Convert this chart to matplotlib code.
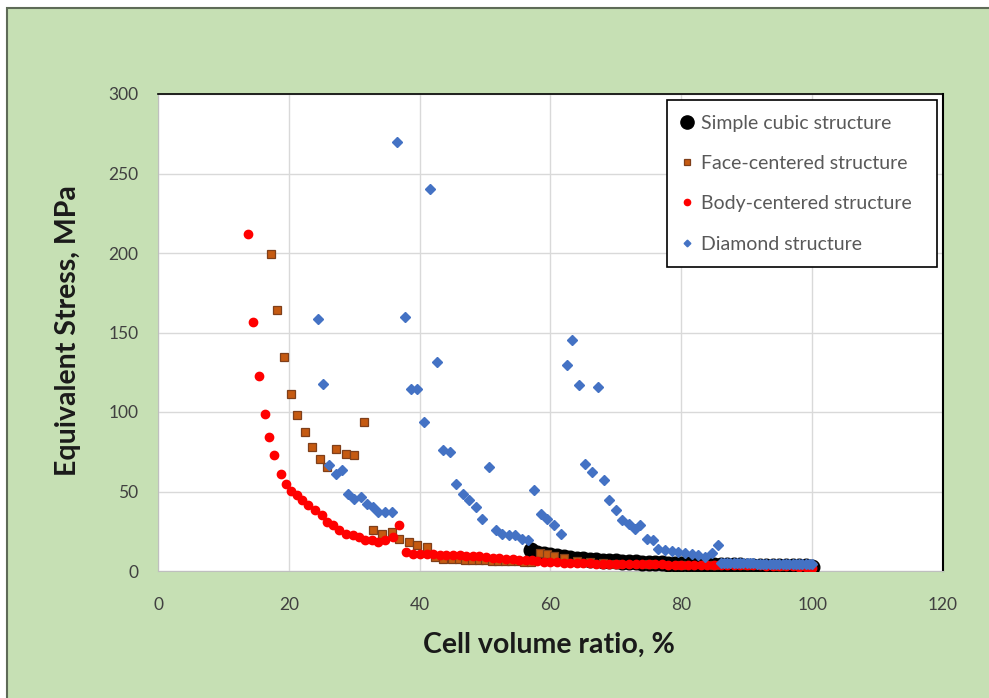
import matplotlib
matplotlib.use("Agg")
import matplotlib.pyplot as plt
from matplotlib.patches import Rectangle

plt.rcParams['font.family'] = ['Lato', 'DejaVu Sans']

# Simple cubic structure
sc_x = [57, 58, 59, 60, 61, 62, 63, 64, 65, 66, 67, 68, 69, 70, 71, 72, 73, 74, 75,
        76, 77, 78, 79, 80, 81, 82, 83, 84, 85, 86, 87, 88, 89, 90, 91, 92, 93, 94,
        95, 96, 97, 98, 99, 100]
sc_y = [13.0, 11.5, 10.5, 9.8, 9.2, 8.7, 8.2, 7.8, 7.4, 7.1, 6.8, 6.5, 6.2, 6.0, 5.8,
        5.6, 5.4, 5.2, 5.0, 4.9, 4.8, 4.6, 4.5, 4.3, 4.2, 4.1, 4.0, 3.9, 3.8, 3.7, 3.6,
        3.5, 3.5, 3.4, 3.3, 3.3, 3.2, 3.1, 3.1, 3.0, 3.0, 2.9, 2.9, 2.8]

# Face-centered structure
fc_x = [17.3, 18.2, 19.3, 20.3, 21.3, 22.5, 23.5, 24.7, 25.9, 27.2, 28.7, 29.9, 31.5,
        32.9, 34.2, 35.7, 36.9, 38.4, 39.6, 41.1, 42.4, 43.6, 45, 46, 47, 48, 49, 50,
        51, 52, 53, 54, 55, 56, 57, 58.4, 59.4, 60.5, 62, 64, 66, 68, 70, 75, 80, 85,
        90, 95, 100]
fc_y = [199.4, 164.0, 134.6, 111.5, 97.9, 87.4, 78.0, 70.6, 65.4, 76.9, 73.8, 72.7,
        93.7, 25.6, 23.5, 24.5, 20.3, 18.2, 16.1, 15.1, 8.8, 7.7, 7.5, 7.3, 7.2, 7.0,
        6.9, 6.8, 6.6, 6.5, 6.3, 6.2, 6.0, 5.9, 5.8, 11.1, 10.7, 9.5, 8.0, 6.5, 5.5,
        5.0, 4.6, 4.3, 4.0, 3.8, 3.6, 3.4, 3.2]

# Body-centered structure
bc_x = [13.7, 14.5, 15.5, 16.3, 17.0, 17.8, 18.8, 19.5, 20.3, 21.2, 22.0, 23.0, 24.0,
        25.0, 25.8, 26.7, 27.7, 28.8, 29.8, 30.8, 31.7, 32.7, 33.7, 34.7, 35.9, 36.9,
        37.9, 39.0, 40.1, 41.1, 42.1, 43.1, 44.1, 45.1, 46.1, 47.1, 48.1, 49.1, 50.1,
        51.2, 52.2, 53.2, 54.2, 55.2, 56.2, 57.2, 58, 59, 60, 61, 62, 63, 64, 65, 66,
        67, 68, 69, 70, 71, 72, 73, 74, 75, 76, 77, 78, 79, 80, 81, 82, 83, 84, 85,
        86, 87, 88, 89, 90, 91, 92, 93, 94, 95, 96, 97, 98, 99, 100]
bc_y = [212.0, 156.5, 122.8, 98.9, 84.3, 72.7, 61.2, 54.9, 50.5, 47.6, 44.7, 41.5,
        38.2, 35.0, 30.8, 28.7, 25.8, 23.5, 22.4, 21.6, 19.5, 19.5, 18.4, 19.5, 21.6,
        28.9, 11.9, 10.9, 10.9, 10.9, 10.9, 10.3, 10.3, 10.3, 10.0, 9.6, 9.2, 9.2, 8.8,
        8.4, 8.0, 7.5, 7.3, 7.1, 6.7, 6.7, 6.0, 5.8, 5.6, 5.4, 5.3, 5.1, 5.0, 4.9, 4.8,
        4.7, 4.6, 4.5, 4.5, 4.4, 4.3, 4.3, 4.2, 4.2, 4.1, 4.1, 4.0, 4.0, 3.9, 3.9, 3.8,
        3.8, 3.8, 3.7, 3.7, 3.7, 3.6, 3.6, 3.6, 3.5, 3.5, 3.4, 3.4, 3.3, 3.2, 3.0, 2.8,
        2.4, 2.0]

# Diamond structure
dm_x = [24.5, 25.2, 26.2, 27.2, 28.2, 29.0, 30.0, 31.0, 32.0, 32.9, 33.7, 34.7, 35.7,
        36.6, 37.7, 38.6, 39.6, 40.6, 41.6, 42.6, 43.6, 44.6, 45.6, 46.6, 47.6, 48.6,
        49.6, 50.6, 51.6, 52.6, 53.6, 54.6, 55.6, 56.6, 57.5, 58.5, 59.5, 60.6, 61.6,
        62.5, 63.3, 64.3, 65.2, 66.3, 67.3, 68.2, 69.0, 70.0, 71.0, 72.0, 72.9, 73.7,
        74.7, 75.7, 76.5, 77.5, 78.5, 79.5, 80.6, 81.6, 82.6, 83.6, 84.7, 85.6,
        86, 86.5, 87, 87.5, 88, 88.5, 89, 89.5, 90, 90.5, 91, 91.5, 92, 92.5, 93, 93.5,
        94, 94.5, 95, 95.5, 96, 96.5, 97, 97.5, 98, 98.5, 99, 99.5, 100]
dm_y = [158.7, 117.8, 66.5, 61.2, 63.3, 48.6, 45.5, 46.5, 42.3, 40.3, 37.1, 37.1, 37.1,
        269.6, 159.7, 114.7, 114.7, 93.7, 240.3, 131.4, 75.9, 74.8, 54.9, 48.6, 44.5,
        40.0, 32.7, 65.4, 25.6, 23.5, 22.4, 22.4, 20.3, 19.3, 50.7, 36.1, 32.9, 28.7,
        23.5, 129.4, 145.1, 116.8, 67.5, 62.3, 115.7, 57.0, 44.5, 38.2, 31.9, 29.7,
        26.6, 28.7, 20.3, 19.3, 14.0, 13.0, 12.3, 11.9, 11.1, 11.0, 10.1, 9.0, 11.1,
        16.1, 5.0, 5.0, 5.0, 4.9, 4.9, 4.9, 4.9, 4.8, 4.8, 4.8, 4.8, 4.7, 4.7, 4.7,
        4.7, 4.6, 4.6, 4.6, 4.6, 4.5, 4.5, 4.5, 4.5, 4.4, 4.4, 4.4, 4.4, 4.3, 4.3]

x_ticks = [0, 20, 40, 60, 80, 100, 120]
y_ticks = [0, 50, 100, 150, 200, 250, 300]

fig = plt.figure(figsize=(9.89, 6.98), dpi=100, facecolor='white')

# green chart area with a dark edge at top and left
bg = Rectangle((7 / 989, -0.1), 1.2, 1.1 - 8 / 698, transform=fig.transFigure,
               facecolor='#C6E0B4', edgecolor='#5E6B57', linewidth=1.5, zorder=-10)
fig.add_artist(bg)

ax = fig.add_axes([158 / 989, 1 - 571 / 698, 785 / 989, 477 / 698])
ax.set_facecolor('white')

ax.plot(sc_x, sc_y, linestyle='none', marker='o', markersize=10.5, color='black',
        label='Simple cubic structure', zorder=3)
ax.plot(fc_x, fc_y, linestyle='none', marker='s', markersize=5.6, markerfacecolor='#C55A11',
        markeredgecolor='#7F3F1A', markeredgewidth=0.9, label='Face-centered structure', zorder=4)
ax.plot(bc_x, bc_y, linestyle='none', marker='o', markersize=6, color='#FF0000',
        label='Body-centered structure', zorder=5)
ax.plot(dm_x, dm_y, linestyle='none', marker='D', markersize=4.6, color='#4472C4',
        label='Diamond structure', zorder=6)

ax.set_xlim(0, 120)
ax.set_ylim(0, 300)
ax.set_xticks(x_ticks)
ax.set_yticks(y_ticks)
ax.tick_params(length=0, labelsize=12.5, labelcolor='#404040')
ax.tick_params(axis='x', pad=19)
ax.tick_params(axis='y', pad=14)
ax.grid(True, color='#D9D9D9', linewidth=1)
ax.set_axisbelow(True)

ax.spines['top'].set_color('black')
ax.spines['right'].set_color('black')
ax.spines['top'].set_linewidth(1.2)
ax.spines['right'].set_linewidth(1.5)
ax.spines['left'].set_color('#BFBFBF')
ax.spines['bottom'].set_color('#BFBFBF')

fig.text(68 / 989, 1 - 331 / 698, 'Equivalent Stress, MPa', rotation=90, ha='center',
         va='center', fontsize=20.5, fontweight='bold', color='#1A1A1A')
fig.text(549 / 989, 1 - 645 / 698, 'Cell volume ratio, %', ha='center', va='center',
         fontsize=20.5, fontweight='bold', color='#1A1A1A')

leg = ax.legend(loc='upper left', bbox_to_anchor=(667 / 989, 1 - 100 / 698 - 0.01, 270 / 989, 0.01),
                bbox_transform=fig.transFigure, mode='expand', fontsize=14,
                labelspacing=1.2, handlelength=0.6, handletextpad=0.4, borderpad=0.75,
                borderaxespad=0, fancybox=False, framealpha=1, edgecolor='black',
                labelcolor='#595959')
leg.get_frame().set_linewidth(1.2)
# Excel shows smaller markers in the legend for the small series
for h, ms in zip(leg.legend_handles, [9.5, 4.2, 4.5, 3.4]):
    h.set_markersize(ms)

fig.savefig('out.png', dpi=100, facecolor=fig.get_facecolor())
